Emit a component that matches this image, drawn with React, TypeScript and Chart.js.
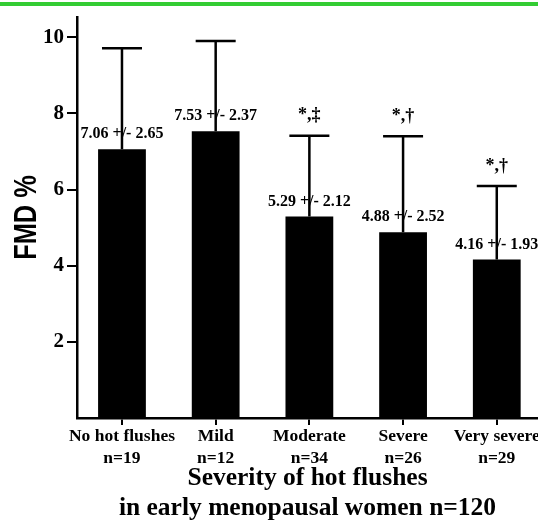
import React, { useEffect, useRef } from "react";
import { Chart, registerables } from "chart.js";

Chart.register(...registerables);

const categories: string[][] = [
  ["No hot flushes", "n=19"],
  ["Mild", "n=12"],
  ["Moderate", "n=34"],
  ["Severe", "n=26"],
  ["Very severe", "n=29"],
];
const means: number[] = [7.06, 7.53, 5.29, 4.88, 4.16];
const sds: number[] = [2.65, 2.37, 2.12, 2.52, 1.93];
const significance: string[] = ["", "", "*,\u2021", "*,\u2020", "*,\u2020"];
const yTicks: number[] = [2, 4, 6, 8, 10];
const xTitle: string[] = ["Severity of hot flushes", "in early menopausal women n=120"];
const yTitle = "FMD %";

const SERIF = "'Liberation Serif', 'Times New Roman', serif";

const errorBarPlugin = {
  id: "errorBars",
  afterDatasetsDraw(chart: any) {
    const { ctx, chartArea } = chart;
    const xs = chart.scales.x;
    const ys = chart.scales.y;
    ctx.save();
    means.forEach((m, i) => {
      const x = xs.getPixelForValue(i);
      const yTop = ys.getPixelForValue(m);
      const yErr = ys.getPixelForValue(m + sds[i]);
      ctx.fillStyle = "#000";
      ctx.font = `bold 16px ${SERIF}`;
      ctx.textAlign = "center";
      ctx.textBaseline = "middle";
      ctx.fillText(`${m.toFixed(2)} +/- ${sds[i].toFixed(2)}`, x, yTop - 15);
      ctx.strokeStyle = "#000";
      ctx.lineWidth = 2.5;
      ctx.beginPath();
      ctx.moveTo(x, yTop);
      ctx.lineTo(x, yErr);
      ctx.moveTo(x - 20, yErr);
      ctx.lineTo(x + 20, yErr);
      ctx.stroke();
      if (significance[i]) {
        ctx.font = `bold 18px ${SERIF}`;
        ctx.fillText(significance[i], x, yErr - 20);
      }
    });
    // condensed y-axis title
    const cy = (chartArea.top + chartArea.bottom) / 2;
    ctx.translate(27, cy);
    ctx.rotate(-Math.PI / 2);
    ctx.scale(0.82, 1);
    ctx.font = "bold 31px 'Liberation Sans', Arial, sans-serif";
    ctx.textAlign = "center";
    ctx.textBaseline = "middle";
    ctx.fillStyle = "#000";
    ctx.fillText(yTitle, 0, 0);
    ctx.restore();
  },
};

export default function App() {
  const ref = useRef<HTMLCanvasElement | null>(null);

  useEffect(() => {
    if (!ref.current) return;
    const chart = new Chart(ref.current, {
      type: "bar",
      data: {
        datasets: [
          {
            data: means.map((m, i) => ({ x: i, y: m })),
            backgroundColor: "#000",
            borderWidth: 0,
            barPercentage: 0.51,
            categoryPercentage: 1,
          },
        ],
      },
      options: {
        responsive: false,
        animation: false,
        layout: { padding: { top: 17, left: 0, right: 0, bottom: 0 } },
        plugins: {
          legend: { display: false },
          tooltip: { enabled: false },
        },
        scales: {
          x: {
            type: "linear",
            min: -0.48,
            max: 4.44,
            offset: false,
            border: { display: true, color: "#000", width: 2.5 },
            grid: {
              offset: false,
              drawOnChartArea: false,
              drawTicks: true,
              tickLength: 7,
              color: "#000",
              lineWidth: 2,
            },
            ticks: {
              stepSize: 1,
              includeBounds: false,
              autoSkip: false,
              maxRotation: 0,
              padding: 0,
              color: "#000",
              font: { family: SERIF, size: 17.5, weight: "bold", lineHeight: "22px" },
              callback: (v: any) => categories[v as number] ?? "",
            },
            title: {
              display: true,
              text: xTitle,
              color: "#000",
              font: { family: SERIF, size: 25.5, weight: "bold", lineHeight: "30px" },
              padding: { top: 0, bottom: 1 },
            },
            afterFit: (s: any) => {
              s.height = 106;
              s.paddingLeft = 0;
              s.paddingRight = 0;
            },
          },
          y: {
            type: "linear",
            min: 0,
            max: 10.53,
            border: { display: true, color: "#000", width: 2.5 },
            grid: {
              drawOnChartArea: false,
              drawTicks: true,
              tickLength: 10,
              lineWidth: 2,
              color: (c: any) => (c.tick && c.tick.value === 0 ? "rgba(0,0,0,0)" : "#000"),
            },
            ticks: {
              stepSize: 2,
              includeBounds: false,
              padding: 3,
              color: "#000",
              font: { family: SERIF, size: 21, weight: "bold" },
              callback: (v: any) => (yTicks.includes(v as number) ? String(v) : ""),
            },
            title: { display: false },
            afterFit: (s: any) => {
              s.width = 77;
              s.paddingTop = 0;
              s.paddingBottom = 0;
            },
          },
        },
      },
      plugins: [errorBarPlugin],
    });
    return () => chart.destroy();
  }, []);

  return (
    <div style={{ position: "absolute", left: 0, top: 0, width: 538, height: 524, background: "#fff" }}>
      <div style={{ position: "absolute", left: 0, top: 2, width: 538, height: 4, background: "#33cc33" }} />
      <canvas ref={ref} width={538} height={524} style={{ display: "block" }} />
    </div>
  );
}
